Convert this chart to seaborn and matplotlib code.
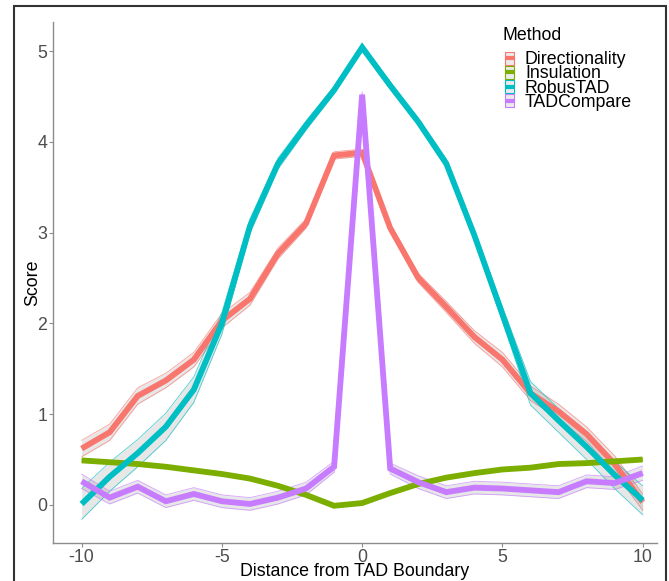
import numpy as np
import pandas as pd
import matplotlib
matplotlib.use("Agg")
import matplotlib.pyplot as plt
import seaborn as sns
from matplotlib.patches import Rectangle
from matplotlib.lines import Line2D

# ---------------- data ----------------
distance = list(range(-10, 11))
methods = ["Directionality", "Insulation", "RobusTAD", "TADCompare"]

directionality = [0.62, 0.80, 1.20, 1.37, 1.60, 2.03, 2.27, 2.77, 3.10, 3.85, 3.88,
                  3.05, 2.50, 2.18, 1.85, 1.60, 1.23, 1.03, 0.78, 0.45, 0.03]
insulation = [0.49, 0.47, 0.45, 0.42, 0.38, 0.34, 0.29, 0.21, 0.11, -0.01, 0.02,
              0.13, 0.23, 0.30, 0.35, 0.39, 0.41, 0.45, 0.46, 0.48, 0.50]
robustad = [0.01, 0.31, 0.57, 0.86, 1.27, 2.00, 3.07, 3.76, 4.18, 4.57, 5.04,
            4.62, 4.22, 3.76, 2.97, 2.10, 1.23, 0.93, 0.64, 0.33, 0.05]
tadcompare = [0.26, 0.08, 0.20, 0.04, 0.12, 0.04, 0.01, 0.08, 0.18, 0.42, 4.52,
              0.40, 0.25, 0.14, 0.19, 0.18, 0.16, 0.14, 0.26, 0.24, 0.35]

# half-widths of the confidence ribbons
directionality_ci = [0.09, 0.09, 0.09, 0.08, 0.08, 0.08, 0.07, 0.06, 0.05, 0.04, 0.04,
                     0.04, 0.05, 0.06, 0.07, 0.08, 0.08, 0.08, 0.08, 0.09, 0.09]
insulation_ci = [0.01] * 21
robustad_ci = [0.17, 0.16, 0.15, 0.15, 0.14, 0.12, 0.08, 0.06, 0.05, 0.04, 0.04,
               0.04, 0.04, 0.05, 0.06, 0.08, 0.13, 0.13, 0.14, 0.15, 0.16]
tadcompare_ci = [0.08, 0.07, 0.07, 0.07, 0.07, 0.07, 0.07, 0.07, 0.07, 0.06, 0.03,
                 0.06, 0.07, 0.07, 0.07, 0.07, 0.07, 0.07, 0.07, 0.07, 0.08]

x_ticks = [-10, -5, 0, 5, 10]
y_ticks = [0, 1, 2, 3, 4, 5]

colors = ["#F8766D", "#7CAE00", "#00BFC4", "#C77CFF"]
# --------------------------------------

series = {"Directionality": (directionality, directionality_ci),
          "Insulation": (insulation, insulation_ci),
          "RobusTAD": (robustad, robustad_ci),
          "TADCompare": (tadcompare, tadcompare_ci)}

rows = []
for m in methods:
    vals, ci = series[m]
    for d, v, c in zip(distance, vals, ci):
        rows.append({"Distance": d, "Score": v, "lo": v - c, "hi": v + c, "Method": m})
df = pd.DataFrame(rows)

sns.set_theme(style="white")
plt.rcParams["font.family"] = ["Liberation Sans", "DejaVu Sans"]

W, H = 669, 581
fig = plt.figure(figsize=(W / 100, H / 100), dpi=100)
ax = fig.add_axes([53 / W, (H - 543) / H, (657 - 53) / W, (543 - 22) / H])

palette = dict(zip(methods, colors))

for m in methods:
    sub = df[df["Method"] == m]
    ax.fill_between(sub["Distance"], sub["lo"], sub["hi"], facecolor="#7f7f7f",
                    alpha=0.18, linewidth=0, zorder=1)
    ax.plot(sub["Distance"], sub["lo"], color=palette[m], lw=0.6, alpha=0.7, zorder=1)
    ax.plot(sub["Distance"], sub["hi"], color=palette[m], lw=0.6, alpha=0.7, zorder=1)

sns.lineplot(data=df, x="Distance", y="Score", hue="Method", hue_order=methods,
             palette=palette, linewidth=4.2, legend=False, ax=ax, zorder=2,
             solid_joinstyle="miter", solid_capstyle="butt")

ax.set_xlim(-11.02, 10.51)
ax.set_ylim(-0.42, 5.32)
ax.set_xticks(x_ticks)
ax.set_xticklabels([str(t) for t in x_ticks])
ax.set_yticks(y_ticks)
ax.set_yticklabels([str(t) for t in y_ticks])

for s in ["top", "right"]:
    ax.spines[s].set_visible(False)
for s in ["left", "bottom"]:
    ax.spines[s].set_color("#8c8c8c")
    ax.spines[s].set_linewidth(1.0)

ax.tick_params(axis="both", which="both", length=3, width=0.8, color="#8c8c8c",
               labelsize=12.8, labelcolor="#4d4d4d", pad=1, bottom=True, left=True)
ax.set_xlabel("Distance from TAD Boundary", fontsize=12.8, color="black", labelpad=-1.5)
ax.set_ylabel("Score", fontsize=12.8, color="black", labelpad=-3)

# legend (ggplot-style, drawn in figure pixels)
fig.text(503 / W, 1 - 36 / H, "Method", fontsize=12.8, color="black",
         ha="left", va="center")
for i, m in enumerate(methods):
    cy = 58 + 14.3 * i
    fig.add_artist(Rectangle((505 / W, 1 - (cy + 6.5) / H), 9 / W, 13 / H,
                             transform=fig.transFigure, facecolor="#ebebeb",
                             edgecolor=palette[m], linewidth=0.8))
    fig.add_artist(Line2D([505.5 / W, 513.5 / W], [1 - cy / H, 1 - cy / H],
                          transform=fig.transFigure, color=palette[m], lw=3,
                          solid_capstyle="butt"))
    fig.text(525 / W, 1 - (cy + 1.5) / H, m, fontsize=12.8, color="black",
             ha="left", va="center")

fig.add_artist(Rectangle((14 / W, -0.1), (666 - 14) / W, 1.1 - 6 / H,
                         transform=fig.transFigure, fill=False, edgecolor="#333333",
                         linewidth=1.5, clip_on=False))

fig.savefig("out.png", dpi=100)
